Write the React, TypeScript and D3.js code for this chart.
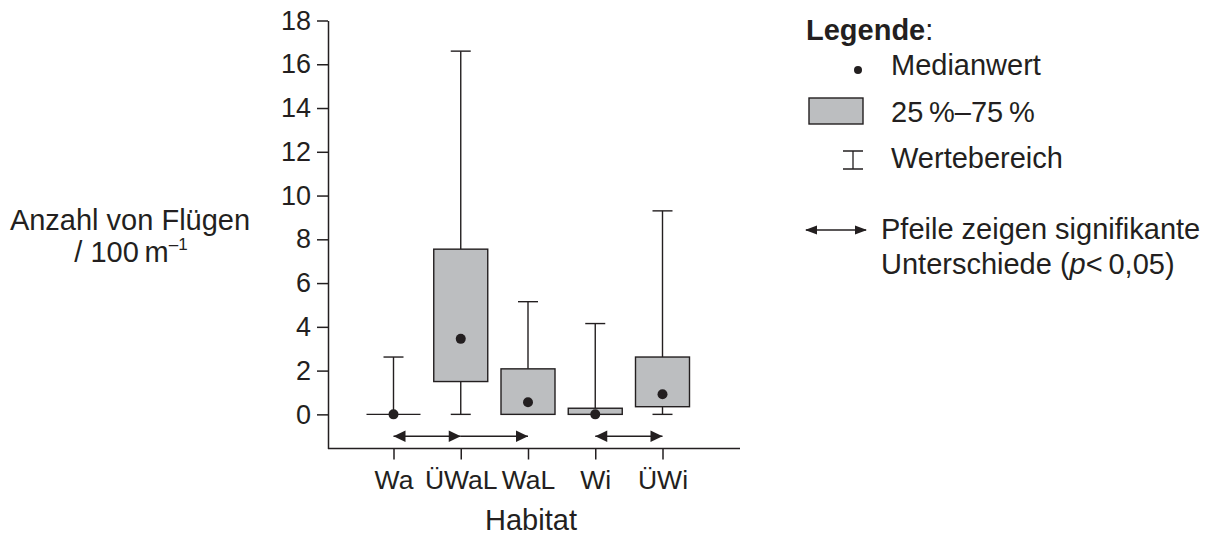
import React, { useRef, useEffect } from 'react';
import * as d3 from 'd3';

// habitats along the x axis
const habitats = ['Wa', 'ÜWaL', 'WaL', 'Wi', 'ÜWi'];
// boxplot stats per habitat (flights / 100 m)
const minVals = [0, 0, 0, 0, 0];
const q1Vals = [0, 1.5, 0, 0, 0.35];
const medianVals = [0, 3.45, 0.55, 0, 0.92];
const q3Vals = [0, 7.55, 2.08, 0.28, 2.62];
const maxVals = [2.62, 16.6, 5.15, 4.15, 9.3];
const yTicks = [0, 2, 4, 6, 8, 10, 12, 14, 16, 18];
// significance arrows: from, to, heads
const arrows = [
  { from: 'Wa', to: 'ÜWaL', start: true, end: true },
  { from: 'ÜWaL', to: 'WaL', start: false, end: true },
  { from: 'Wi', to: 'ÜWi', start: true, end: true },
];

const INK = '#231f20';
const BOX = '#bcbec0';
const FONT = '"Liberation Sans", Arial, Helvetica, sans-serif';

const App = () => {
  const ref = useRef<SVGSVGElement>(null);

  useEffect(() => {
    const svg = d3.select(ref.current);
    svg.selectAll('*').remove();

    const axisX0 = 328, axisX1 = 740, axisY = 448.5;

    const y = d3.scaleLinear().domain([-1.56, 18]).range([axisY, 20.5]);
    const x = d3.scalePoint<string>().domain(habitats).range([393.5, 662.5]);

    // y axis
    const ya = svg.append('g')
      .attr('transform', `translate(${axisX0},0)`)
      .call(d3.axisLeft(y).tickValues(yTicks).tickSize(11).tickSizeOuter(0).tickPadding(6));
    ya.selectAll('path, line').attr('stroke', INK).attr('stroke-width', 1.5);
    ya.selectAll('text').attr('fill', INK).style('font-family', FONT).style('font-size', '27px');

    // x axis
    const xa = svg.append('g')
      .attr('transform', `translate(0,${axisY})`)
      .call(d3.axisBottom(x).tickSize(11).tickPadding(11));
    xa.select('path').remove();
    xa.append('line').attr('x1', axisX0).attr('x2', axisX1).attr('stroke', INK).attr('stroke-width', 1.5);
    xa.selectAll('line').attr('stroke', INK).attr('stroke-width', 1.5);
    xa.selectAll('text').attr('fill', INK).style('font-family', FONT).style('font-size', '26.5px');

    const boxW = 54, capW = 20;
    const rows = habitats.map((h, i) => ({
      h, min: minVals[i], q1: q1Vals[i], med: medianVals[i], q3: q3Vals[i], max: maxVals[i],
    }));

    const g = svg.append('g');
    rows.forEach(d => {
      const cx = x(d.h)!;
      // upper whisker
      g.append('line').attr('x1', cx).attr('x2', cx).attr('y1', y(d.q3)).attr('y2', y(d.max))
        .attr('stroke', INK).attr('stroke-width', 1.4);
      g.append('line').attr('x1', cx - capW / 2).attr('x2', cx + capW / 2).attr('y1', y(d.max)).attr('y2', y(d.max))
        .attr('stroke', INK).attr('stroke-width', 1.4);
      // lower whisker
      if (d.q1 > d.min) {
        g.append('line').attr('x1', cx).attr('x2', cx).attr('y1', y(d.min)).attr('y2', y(d.q1))
          .attr('stroke', INK).attr('stroke-width', 1.4);
        g.append('line').attr('x1', cx - capW / 2).attr('x2', cx + capW / 2).attr('y1', y(d.min)).attr('y2', y(d.min))
          .attr('stroke', INK).attr('stroke-width', 1.4);
      }
      // box (a flat box collapses to a line)
      if (d.q3 > d.q1) {
        g.append('rect').attr('x', cx - boxW / 2).attr('width', boxW)
          .attr('y', y(d.q3)).attr('height', y(d.q1) - y(d.q3))
          .attr('fill', BOX).attr('stroke', INK).attr('stroke-width', 1.4);
      } else {
        g.append('line').attr('x1', cx - boxW / 2).attr('x2', cx + boxW / 2)
          .attr('y1', y(d.q1)).attr('y2', y(d.q1))
          .attr('stroke', INK).attr('stroke-width', 1.4);
      }
      // median
      g.append('circle').attr('cx', cx).attr('cy', y(d.med)).attr('r', 5).attr('fill', INK);
    });

    // arrowheads
    const head = (tipX: number, cy: number, dir: number, len: number, half: number) =>
      `M${tipX},${cy}L${tipX - dir * len},${cy - half}L${tipX - dir * len},${cy + half}Z`;

    arrows.forEach(a => {
      const x1 = x(a.from)!, x2 = x(a.to)!, ay = y(-1);
      g.append('line').attr('x1', x1).attr('x2', x2).attr('y1', ay).attr('y2', ay)
        .attr('stroke', INK).attr('stroke-width', 1.4);
      if (a.start) g.append('path').attr('d', head(x1, ay, -1, 12, 5.8)).attr('fill', INK);
      if (a.end) g.append('path').attr('d', head(x2, ay, 1, 12, 5.8)).attr('fill', INK);
    });

    // axis titles
    svg.append('text').attr('x', 531).attr('y', 530).attr('text-anchor', 'middle')
      .attr('fill', INK).style('font-family', FONT).style('font-size', '29px').text('Habitat');

    const yl = svg.append('g').attr('fill', INK).style('font-family', FONT).style('font-size', '29px');
    yl.append('text').attr('x', 130).attr('y', 230).attr('text-anchor', 'middle').text('Anzahl von Flügen');
    const t2 = yl.append('text').attr('x', 131).attr('y', 262).attr('text-anchor', 'middle');
    t2.append('tspan').text('/ 100\u2009m');
    t2.append('tspan').attr('dy', -12).style('font-size', '17px').text('–1');

    // legend
    const lg = svg.append('g').attr('fill', INK).style('font-family', FONT).style('font-size', '29px');
    lg.append('text').attr('x', 806).attr('y', 40)
      .call(t => {
        t.append('tspan').style('font-weight', 'bold').text('Legende');
        t.append('tspan').text(':');
      });
    lg.append('circle').attr('cx', 858).attr('cy', 70).attr('r', 4);
    lg.append('text').attr('x', 891).attr('y', 75).text('Medianwert');
    lg.append('rect').attr('x', 809).attr('y', 98).attr('width', 54).attr('height', 26)
      .attr('fill', BOX).attr('stroke', INK).attr('stroke-width', 1.4);
    lg.append('text').attr('x', 891).attr('y', 122).text('25\u2009%–75\u2009%');
    const ix = 853;
    lg.append('path').attr('d', `M${ix - 10},151H${ix + 10}M${ix},151V169M${ix - 10},169H${ix + 10}`)
      .attr('stroke', INK).attr('stroke-width', 1.3).attr('fill', 'none');
    lg.append('text').attr('x', 891).attr('y', 168).text('Wertebereich');

    lg.append('line').attr('x1', 806).attr('x2', 866).attr('y1', 230).attr('y2', 230)
      .attr('stroke', INK).attr('stroke-width', 1.4);
    lg.append('path').attr('d', head(805, 230, -1, 12, 4.5));
    lg.append('path').attr('d', head(867, 230, 1, 12, 4.5));
    lg.append('text').attr('x', 881).attr('y', 239).text('Pfeile zeigen signifikante');
    lg.append('text').attr('x', 881).attr('y', 274)
      .call(t => {
        t.append('tspan').text('Unterschiede (');
        t.append('tspan').style('font-style', 'italic').text('p');
        t.append('tspan').text('<\u20090,05)');
      });
  }, []);

  return (
    <svg ref={ref} width={1214} height={535}
      style={{ position: 'absolute', left: 0, top: 0, background: '#fff' }} />
  );
};

export default App;
